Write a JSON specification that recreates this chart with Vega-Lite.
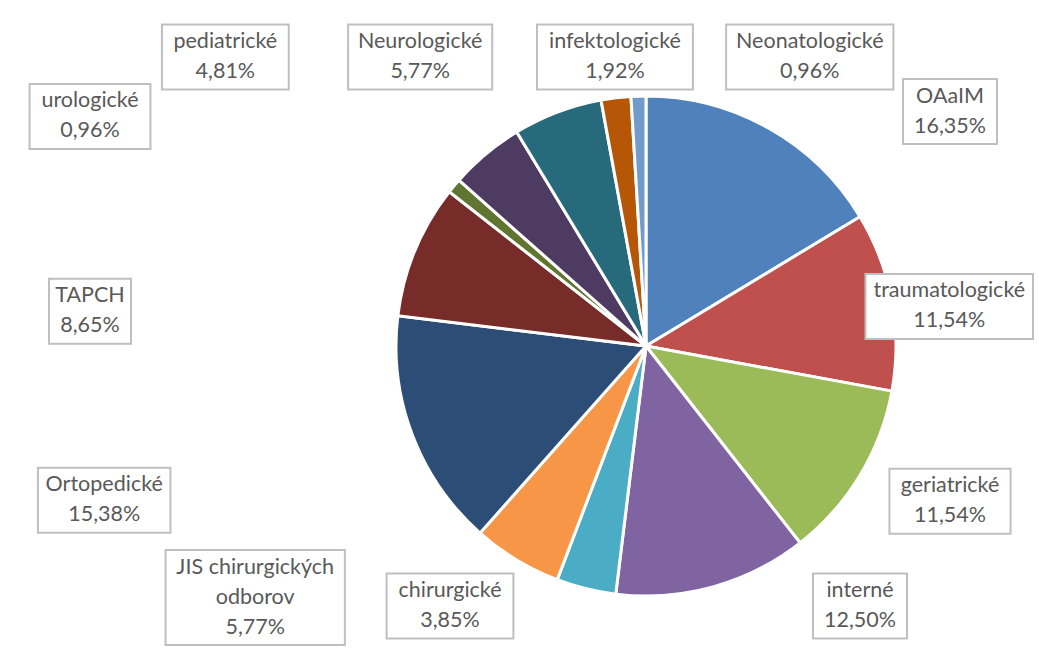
{
  "$schema": "https://vega.github.io/schema/vega-lite/v6.json",
  "width": 1039,
  "height": 651,
  "autosize": {"type": "fit", "contains": "padding"},
  "padding": 0,
  "background": "white",
  "config": {"view": {"stroke": null}},
  "data": {
    "values": [
      {"cat": "OAaIM", "pct": 16.35},
      {"cat": "traumatologické", "pct": 11.54},
      {"cat": "geriatrické", "pct": 11.54},
      {"cat": "interné", "pct": 12.50},
      {"cat": "chirurgické", "pct": 3.85},
      {"cat": "JIS chirurgických odborov", "pct": 5.77},
      {"cat": "Ortopedické", "pct": 15.38},
      {"cat": "TAPCH", "pct": 8.65},
      {"cat": "urologické", "pct": 0.96},
      {"cat": "pediatrické", "pct": 4.81},
      {"cat": "Neurologické", "pct": 5.77},
      {"cat": "infektologické", "pct": 1.92},
      {"cat": "Neonatologické", "pct": 0.96}
    ]
  },
  "transform": [
    {"window": [{"op": "row_number", "as": "idx"}]},
    {"window": [{"op": "sum", "field": "pct", "as": "cum"}], "sort": [{"field": "idx"}], "frame": [null, 0]},
    {"joinaggregate": [{"op": "sum", "field": "pct", "as": "total"}, {"op": "count", "as": "n"}]},
    {"calculate": "(datum.cum - datum.pct / 2) / datum.total * 360", "as": "mid"},
    {"calculate": "(datum.mid + 180) % 360", "as": "key"},
    {"window": [{"op": "row_number", "as": "r"}], "sort": [{"field": "key"}]},
    {"calculate": "(datum.r - 1) / (datum.n - 1) * 2337.7", "as": "s"},
    {"calculate": "datum.s < 240 ? -196 - datum.s : datum.s < 409.7 ? -436 - (datum.s - 240) * 0.7071 : datum.s < 838.7 ? -556 : datum.s < 1698.7 ? -556 + (datum.s - 838.7) : datum.s < 2247.7 ? 304 : 304 - (datum.s - 2247.7)", "as": "px0"},
    {"calculate": "datum.s < 240 ? 260 : datum.s < 409.7 ? 260 - (datum.s - 240) * 0.7071 : datum.s < 838.7 ? 140 - (datum.s - 409.7) : datum.s < 1698.7 ? -289 : datum.s < 2247.7 ? -289 + (datum.s - 1698.7) : 260", "as": "py0"},
    {"calculate": "length(datum.cat) > 18 ? slice(datum.cat, 0, lastindexof(datum.cat, ' ')) : datum.cat", "as": "n1"},
    {"calculate": "length(datum.cat) > 18 ? slice(datum.cat, lastindexof(datum.cat, ' ') + 1) : ''", "as": "n2"},
    {"calculate": "replace(format(datum.pct, '.2f'), '.', ',') + '%'", "as": "ps"},
    {"calculate": "datum.n1 + '\\n' + (datum.n2 ? datum.n2 + '\\n' : '') + datum.ps", "as": "label"},
    {"calculate": "datum.n2 ? 3 : 2", "as": "nl"},
    {"calculate": "length(replace(datum.n1, regexp('[ijlIJtfr ]', 'g'), '')) * 11.6 + length(replace(datum.n1, regexp('[^ijlIJtfr ]', 'g'), '')) * 5.9", "as": "w1"},
    {"calculate": "length(replace(datum.n2, regexp('[ijlIJtfr ]', 'g'), '')) * 11.6 + length(replace(datum.n2, regexp('[^ijlIJtfr ]', 'g'), '')) * 5.9", "as": "w2"},
    {"calculate": "max(datum.w1, datum.w2, length(datum.ps) * 12) + 22", "as": "w"},
    {"calculate": "datum.nl * 30 + 5", "as": "h"},
    {"calculate": "clamp(datum.px0, -646 + datum.w / 2 + 6, 393 - datum.w / 2 - 6)", "as": "px"},
    {"calculate": "clamp(datum.py0, -346 + datum.h / 2 + 6, 305 - datum.h / 2 - 6)", "as": "py"},
    {"calculate": "datum.py - (datum.nl - 1) * 15", "as": "ty"},
    {"calculate": "datum.px - datum.w / 2", "as": "bx1"},
    {"calculate": "datum.px + datum.w / 2", "as": "bx2"},
    {"calculate": "datum.py - datum.h / 2", "as": "by1"},
    {"calculate": "datum.py + datum.h / 2", "as": "by2"}
  ],
  "layer": [
    {
      "mark": {"type": "arc", "outerRadius": 250, "stroke": "white", "strokeWidth": 3},
      "encoding": {
        "theta": {"field": "pct", "type": "quantitative", "stack": true},
        "order": {"field": "idx", "type": "quantitative"},
        "color": {
          "field": "cat",
          "type": "nominal",
          "legend": null,
          "scale": {
            "domain": ["OAaIM", "traumatologické", "geriatrické", "interné", "chirurgické", "JIS chirurgických odborov", "Ortopedické", "TAPCH", "urologické", "pediatrické", "Neurologické", "infektologické", "Neonatologické"],
            "range": ["#4F81BD", "#C0504D", "#9BBB59", "#8064A2", "#4BACC6", "#F79646", "#2C4D75", "#772C2A", "#5F7530", "#4D3B62", "#276A7C", "#B65708", "#729ACA"]
          }
        },
        "x": {"datum": 0, "type": "quantitative", "scale": {"domain": [-646, 393], "nice": false, "zero": false}, "axis": null},
        "y": {"datum": 0, "type": "quantitative", "scale": {"domain": [-346, 305], "reverse": true, "nice": false, "zero": false}, "axis": null}
      }
    },
    {
      "mark": {"type": "rect", "fill": "white", "stroke": "#BFBFBF", "strokeWidth": 2},
      "encoding": {
        "x": {"field": "bx1", "type": "quantitative"},
        "x2": {"field": "bx2"},
        "y": {"field": "by1", "type": "quantitative"},
        "y2": {"field": "by2"}
      }
    },
    {
      "mark": {"type": "text", "font": "Lato", "fontSize": 21.5, "fill": "#595959", "align": "center", "baseline": "middle", "lineBreak": "\n", "lineHeight": 30},
      "encoding": {
        "x": {"field": "px", "type": "quantitative"},
        "y": {"field": "ty", "type": "quantitative"},
        "text": {"field": "label"}
      }
    }
  ]
}
